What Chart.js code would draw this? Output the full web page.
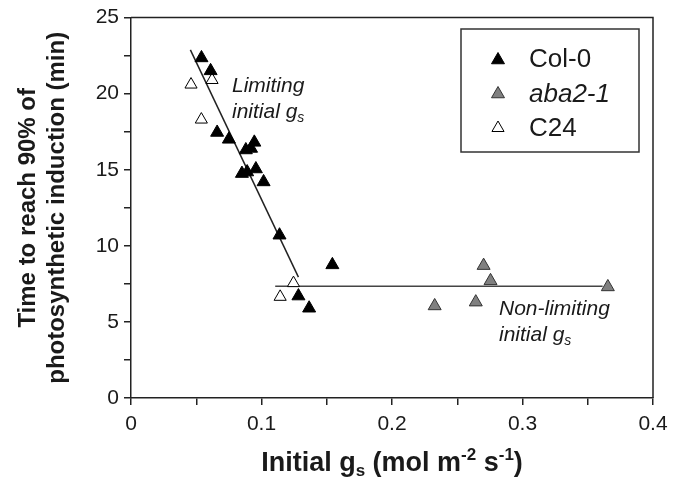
<!DOCTYPE html>
<html>
<head>
<meta charset="utf-8">
<script src="https://cdn.jsdelivr.net/npm/chart.js@4/dist/chart.umd.min.js"></script>
<style>
  html, body { margin: 0; padding: 0; background: #fff; }
  #wrap { position: relative; width: 675px; height: 481px; }
</style>
</head>
<body>
<div id="wrap"><canvas id="chart" width="675" height="481"></canvas></div>
<script>
// Initial gs (mol m-2 s-1) and time to 90% induction (min)
const colX = [0.054, 0.061, 0.066, 0.075, 0.088, 0.092, 0.0945, 0.085, 0.089, 0.0957, 0.1016, 0.1138, 0.1543, 0.1283, 0.1365];
const colY = [22.35, 21.5, 17.45, 17.0, 16.3, 16.4, 16.8, 14.75, 14.85, 15.05, 14.2, 10.7, 8.75, 6.7, 5.9];

const abaX = [0.2702, 0.2755, 0.3654, 0.2327, 0.2642];
const abaY = [8.7, 7.7, 7.3, 6.05, 6.3];

const c24X = [0.046, 0.0621, 0.0539, 0.1245, 0.1143];
const c24Y = [20.6, 20.9, 18.3, 7.55, 6.65];

// fitted segments
const limitLineX = [0.0455, 0.1283];
const limitLineY = [22.88, 7.94];
const plateauX = [0.1105, 0.3614];
const plateauY = [7.35, 7.35];

const xTicks = [0, 0.1, 0.2, 0.3, 0.4];
const yTicks = [0, 5, 10, 15, 20, 25];

const FONT = "'Liberation Sans', Arial, sans-serif";
const INK = '#1a1a1a';

function pts(xs, ys) {
    return xs.map((x, i) => ({ x: x, y: ys[i] }));
}

function isMajor(v, list) {
    return list.some(t => Math.abs(t - v) < 1e-6);
}

// draws text pieces one after another (for sub/superscripts)
function drawRich(ctx, x, y, parts, align) {
    let total = 0;
    parts.forEach(p => { ctx.font = p.font; p.w = ctx.measureText(p.t).width; total += p.w; });
    let cx = align === 'center' ? x - total / 2 : x;
    ctx.textBaseline = 'alphabetic';
    ctx.textAlign = 'left';
    parts.forEach(p => {
        ctx.font = p.font;
        ctx.fillText(p.t, cx, y + (p.dy || 0));
        cx += p.w;
    });
}

function triangle(ctx, x, y, r, fill, stroke) {
    ctx.beginPath();
    ctx.moveTo(x, y - r);
    ctx.lineTo(x + r * 0.866, y + r / 2);
    ctx.lineTo(x - r * 0.866, y + r / 2);
    ctx.closePath();
    ctx.fillStyle = fill;
    ctx.fill();
    ctx.lineWidth = 1;
    ctx.strokeStyle = stroke;
    ctx.stroke();
}

const extras = {
    id: 'extras',
    afterDraw(chart) {
        const ctx = chart.ctx;
        const a = chart.chartArea;
        ctx.save();

        // top and right frame
        ctx.strokeStyle = '#222';
        ctx.lineWidth = 1.5;
        ctx.beginPath();
        ctx.moveTo(a.left, a.top);
        ctx.lineTo(a.right, a.top);
        ctx.lineTo(a.right, a.bottom);
        ctx.stroke();

        ctx.fillStyle = INK;

        // x axis title
        const b = 'bold 27px ' + FONT, bs = 'bold 17px ' + FONT;
        drawRich(ctx, (a.left + a.right) / 2, 471, [
            { t: 'Initial g', font: b },
            { t: 's', font: bs, dy: 5 },
            { t: ' (mol m', font: b },
            { t: '-2', font: bs, dy: -11 },
            { t: ' s', font: b },
            { t: '-1', font: bs, dy: -11 },
            { t: ')', font: b }
        ], 'center');

        // annotations
        const it = 'italic 21px ' + FONT, its = 'italic 14px ' + FONT;
        ctx.fillStyle = INK;
        drawRich(ctx, 232, 92, [{ t: 'Limiting', font: it }], 'left');
        drawRich(ctx, 232, 118, [{ t: 'initial g', font: it }, { t: 's', font: its, dy: 4 }], 'left');
        drawRich(ctx, 499, 315, [{ t: 'Non-limiting', font: it }], 'left');
        drawRich(ctx, 499, 341, [{ t: 'initial g', font: it }, { t: 's', font: its, dy: 4 }], 'left');

        // legend
        ctx.strokeStyle = '#333';
        ctx.lineWidth = 1.5;
        ctx.strokeRect(461, 29, 178, 123);
        triangle(ctx, 498, 60, 7.5, '#000', '#000');
        triangle(ctx, 498, 94, 7.5, '#808080', '#333');
        triangle(ctx, 498, 128, 7, '#fff', '#000');
        ctx.fillStyle = INK;
        drawRich(ctx, 529, 67, [{ t: 'Col-0', font: '26px ' + FONT }], 'left');
        drawRich(ctx, 529, 102, [{ t: 'aba2-1', font: 'italic 26px ' + FONT }], 'left');
        drawRich(ctx, 529, 136, [{ t: 'C24', font: '26px ' + FONT }], 'left');

        ctx.restore();
    }
};

new Chart(document.getElementById('chart'), {
    type: 'scatter',
    data: {
        datasets: [
            {
                label: 'Col-0',
                data: pts(colX, colY),
                pointStyle: 'triangle',
                pointRadius: 7.5,
                backgroundColor: '#000',
                borderColor: '#000',
                borderWidth: 1
            },
            {
                label: 'aba2-1',
                data: pts(abaX, abaY),
                pointStyle: 'triangle',
                pointRadius: 7.5,
                backgroundColor: '#808080',
                borderColor: '#333',
                borderWidth: 1
            },
            {
                label: 'C24',
                data: pts(c24X, c24Y),
                pointStyle: 'triangle',
                pointRadius: 7,
                backgroundColor: '#fff',
                borderColor: '#000',
                borderWidth: 1
            },
            {
                label: 'limiting',
                data: pts(limitLineX, limitLineY),
                showLine: true,
                pointRadius: 0,
                borderColor: '#222',
                borderWidth: 1.5
            },
            {
                label: 'plateau',
                data: pts(plateauX, plateauY),
                showLine: true,
                pointRadius: 0,
                borderColor: '#444',
                borderWidth: 1.5
            }
        ]
    },
    options: {
        responsive: false,
        animation: false,
        devicePixelRatio: 1,
        layout: { padding: { top: 16, right: 22, left: 0, bottom: 0 } },
        plugins: {
            legend: { display: false },
            tooltip: { enabled: false }
        },
        scales: {
            x: {
                type: 'linear',
                min: 0,
                max: 0.4,
                afterFit: s => { s.height = 83; },
                border: { display: true, color: '#222', width: 1.5 },
                grid: { drawOnChartArea: false, drawTicks: true, tickLength: 7, color: '#222', lineWidth: 1.5 },
                ticks: {
                    stepSize: 0.05,
                    padding: 7,
                    color: INK,
                    font: { family: FONT, size: 21 },
                    maxRotation: 0,
                    autoSkip: false,
                    callback: v => isMajor(v, xTicks) ? String(Math.round(v * 10) / 10) : ''
                }
            },
            y: {
                min: 0,
                max: 25,
                afterFit: s => { s.width = 131; },
                border: { display: true, color: '#222', width: 1.5 },
                grid: { drawOnChartArea: false, drawTicks: true, tickLength: 7, color: '#222', lineWidth: 1.5 },
                ticks: {
                    stepSize: 2.5,
                    padding: 5,
                    color: INK,
                    font: { family: FONT, size: 21 },
                    autoSkip: false,
                    callback: v => isMajor(v, yTicks) ? String(v) : ''
                },
                title: {
                    display: true,
                    text: ['Time to reach 90% of', 'photosynthetic induction (min)'],
                    color: INK,
                    font: { family: FONT, size: 24, weight: 'bold', lineHeight: 1.2 },
                    padding: { top: 14, bottom: 0 }
                }
            }
        }
    },
    plugins: [extras]
});
</script>
</body>
</html>
